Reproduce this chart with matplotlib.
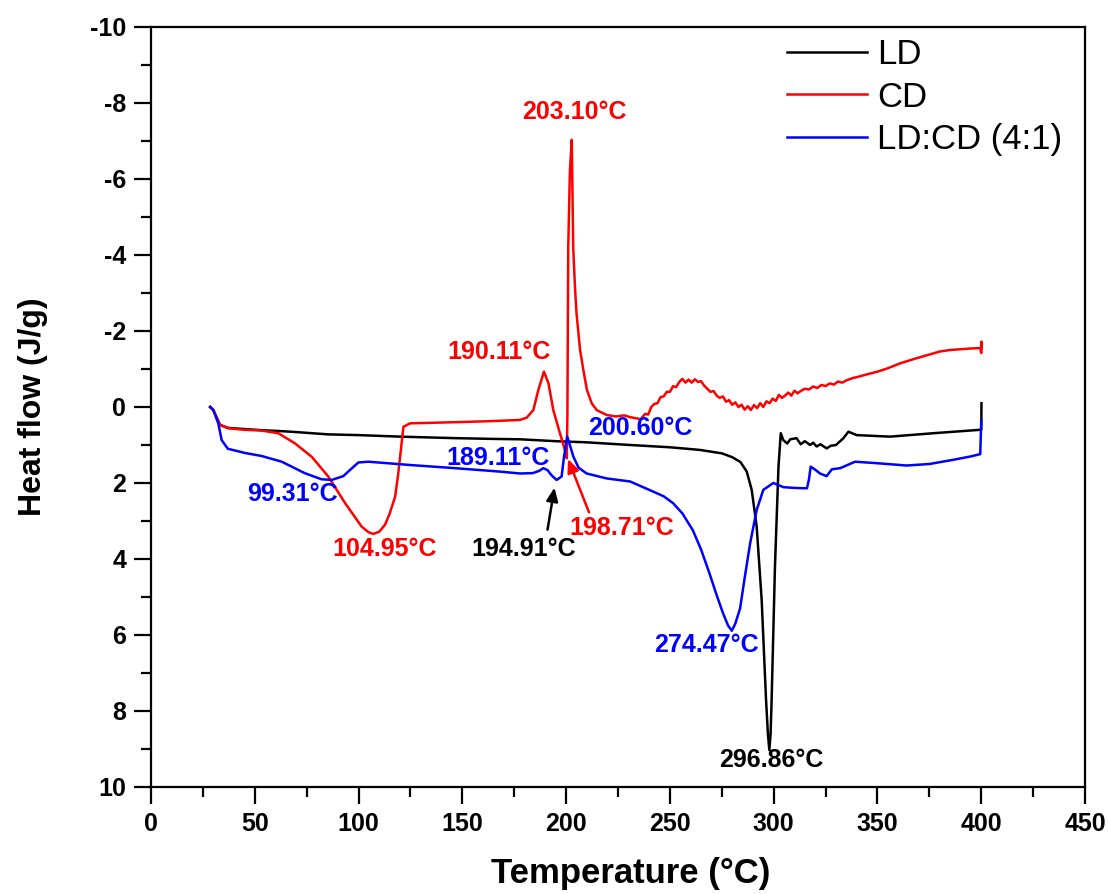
import matplotlib
matplotlib.use("Agg")
import matplotlib.pyplot as plt
from matplotlib.ticker import MultipleLocator

plt.rcParams["font.family"] = ["Liberation Sans", "DejaVu Sans"]
plt.rcParams["axes.unicode_minus"] = False

# --- DSC curves: temperature (°C) and heat flow (J/g) ---
ld_temp = [28.5, 30, 32, 33.2, 37, 45, 53, 61, 70, 85, 100, 120, 146.5, 165, 177.8,
           195, 210, 230.8, 250, 264.5, 275, 280, 284, 287, 289.4, 291.8, 294.2,
           296.3, 297.2, 297.9, 298.5, 299, 300.6, 302.3, 303.4, 304.6, 306.5, 308,
           311, 313, 315, 317.5, 319, 320.7, 322.5, 325.5, 327.5, 330, 333.6, 336,
           340, 356, 377, 399.5, 400, 400.1]
ld_flow = [0.0, 0.08, 0.32, 0.47, 0.55, 0.58, 0.61, 0.63, 0.66, 0.72, 0.74, 0.78, 0.82,
           0.84, 0.85, 0.9, 0.93, 1.0, 1.06, 1.13, 1.22, 1.32, 1.45, 1.7, 2.18, 3.15,
           5.08, 7.7, 8.6, 9.03, 8.6, 7.7, 4.2, 1.57, 0.69, 0.87, 0.96, 0.85, 0.82,
           0.98, 0.9, 1.0, 0.94, 1.04, 0.98, 1.09, 1.02, 1.0, 0.82, 0.65, 0.74, 0.78,
           0.69, 0.6, 0.6, -0.1]

cd_temp = [28.5, 30, 32, 33.2, 37.2, 45, 53.3, 61.3, 69.4, 77.4, 85.4, 93.5, 101.5,
           104.9, 107.1, 110, 112.7, 115, 117.6, 119, 120, 121.6, 124.8, 146.5, 165,
           177.8, 181, 184.2, 186.6, 189.3, 191.5, 193.8, 197, 199.5, 200.3, 200.6,
           201.0, 201.8, 202.7, 203.4, 204.2, 205, 206.7, 208.3, 210, 212.3, 214.7,
           219.5, 224, 228, 231, 234, 236, 238, 239.5, 241, 242.5, 244, 245.5, 247,
           248.5, 250, 251.5, 253, 254.5, 256, 257.5, 259, 260.5, 262, 263.5, 265,
           266.5, 268, 269.5, 271, 272.5, 274, 275.5, 277, 278.5, 280, 281.5, 283,
           284.5, 286, 287.5, 289, 290.5, 292, 293.5, 295, 296.5, 298, 299.5, 301,
           302.5, 304, 305.5, 307, 308.5, 310, 311.5, 313, 315, 317, 319, 321, 323,
           325, 327, 329, 331, 333, 335, 338, 341, 345, 350, 355, 361, 368, 375, 380,
           385, 390, 395, 399.5, 400, 400.1, 400.2]
cd_flow = [0.0, 0.08, 0.32, 0.47, 0.56, 0.6, 0.62, 0.69, 0.96, 1.31, 1.83, 2.53, 3.15,
           3.3, 3.34, 3.28, 3.1, 2.8, 2.36, 1.8, 1.31, 0.52, 0.43, 0.4, 0.37, 0.34,
           0.28, 0.08, -0.45, -0.93, -0.62, 0.08, 0.69, 1.15, 1.35, 0.2, -4.2, -6.2,
           -7.03, -4.2, -3.2, -2.46, -1.5, -0.97, -0.45, -0.1, 0.08, 0.21, 0.25, 0.22,
           0.27, 0.3, 0.32, 0.18, 0.2, 0.0, -0.08, -0.1, -0.26, -0.28, -0.4, -0.4,
           -0.55, -0.52, -0.66, -0.74, -0.64, -0.72, -0.64, -0.73, -0.66, -0.68, -0.56,
           -0.48, -0.4, -0.42, -0.3, -0.24, -0.28, -0.14, -0.18, -0.06, -0.12, 0.0,
           -0.06, 0.07, -0.02, 0.08, -0.05, 0.03, -0.1, 0.0, -0.15, -0.1, -0.22,
           -0.16, -0.32, -0.24, -0.3, -0.38, -0.3, -0.43, -0.36, -0.42, -0.48, -0.46,
           -0.54, -0.5, -0.58, -0.55, -0.62, -0.59, -0.67, -0.64, -0.7, -0.76, -0.8,
           -0.86, -0.93, -1.02, -1.15, -1.27, -1.38, -1.46, -1.5, -1.52, -1.54, -1.55,
           -1.42, -1.72, -1.55]

mix_temp = [28.5, 30, 32.4, 34, 37, 45.3, 53.3, 63, 74, 82, 87, 92.6, 96, 99.9, 104.7,
            125.6, 146.5, 168, 177.8, 184, 187, 189, 191, 193, 195.4, 197.8, 199,
            200.5, 201.5, 203.5, 206, 209.9, 219.5, 230.8, 240, 247, 251.5, 256, 261,
            265, 269, 272.5, 275.6, 278, 279.8, 281.5, 283.8, 286, 288.6, 291.8, 295,
            299.8, 304.7, 310, 316, 317, 317.8, 320, 322.3, 325.5, 328, 332, 339.2,
            350, 364, 375, 386.5, 395, 399.5, 400]
mix_flow = [0.0, 0.08, 0.43, 0.87, 1.1, 1.21, 1.29, 1.44, 1.74, 1.9, 1.92, 1.82, 1.65,
            1.46, 1.44, 1.53, 1.61, 1.7, 1.75, 1.74, 1.68, 1.61, 1.66, 1.8, 1.92, 1.83,
            1.3, 0.78, 0.95, 1.31, 1.6, 1.75, 1.88, 1.96, 2.18, 2.35, 2.53, 2.8, 3.24,
            3.75, 4.37, 4.95, 5.43, 5.75, 5.89, 5.7, 5.3, 4.5, 3.6, 2.71, 2.18, 2.0,
            2.11, 2.13, 2.14, 1.9, 1.57, 1.65, 1.75, 1.82, 1.64, 1.61, 1.44, 1.48, 1.54,
            1.5, 1.39, 1.3, 1.24, 0.35]

series_names = ["LD", "CD", "LD:CD (4:1)"]
series_colors = ["black", "#ff0000", "#0000ff"]

# Peak labels: text, colour, position (°C, J/g)
peak_labels = [
    ("203.10°C", "#ff0000", 203.8, -7.76),
    ("190.11°C", "#ff0000", 167.7, -1.45),
    ("200.60°C", "#0000ff", 235.6, 0.55),
    ("189.11°C", "#0000ff", 167.2, 1.34),
    ("99.31°C", "#0000ff", 67.9, 2.29),
    ("104.95°C", "#ff0000", 112.7, 3.74),
    ("194.91°C", "black", 179.7, 3.74),
    ("198.71°C", "#ff0000", 227.0, 3.18),
    ("274.47°C", "#0000ff", 267.4, 6.26),
    ("296.86°C", "black", 298.7, 9.29),
]

fig = plt.figure(figsize=(11.09, 8.94), dpi=100)
ax = fig.add_axes([0.1362, 0.1197, 0.8422, 0.8501])

for t, f, name, c in zip([ld_temp, cd_temp, mix_temp], [ld_flow, cd_flow, mix_flow],
                         series_names, series_colors):
    ax.plot(t, f, color=c, lw=1.8, label=name)

for text, c, x, y in peak_labels:
    ax.text(x, y, text, color=c, fontsize=18, fontweight="bold",
            ha="center", va="center")

ax.annotate("", xy=(194.6, 2.05), xytext=(190.8, 3.3),
            arrowprops=dict(arrowstyle="-|>,head_length=0.8,head_width=0.35",
                            color="black", lw=1.8))
ax.annotate("", xy=(200.4, 1.3), xytext=(211.5, 2.84),
            arrowprops=dict(arrowstyle="-|>,head_length=0.8,head_width=0.35",
                            color="#ff0000", lw=1.8))

ax.set_xlim(0, 450)
ax.set_ylim(10, -10)
ax.xaxis.set_major_locator(MultipleLocator(50))
ax.xaxis.set_minor_locator(MultipleLocator(25))
ax.yaxis.set_major_locator(MultipleLocator(2))
ax.yaxis.set_minor_locator(MultipleLocator(1))
ax.tick_params(which="major", direction="out", length=12, width=1.6,
               labelsize=18, pad=6)
ax.tick_params(which="minor", direction="out", length=7, width=1.6)
for lab in ax.get_xticklabels() + ax.get_yticklabels():
    lab.set_fontweight("bold")
for sp in ax.spines.values():
    sp.set_linewidth(1.6)

ax.set_xlabel("Temperature (°C)", fontsize=25, fontweight="bold")
ax.xaxis.set_label_coords(0.513, -0.114, transform=ax.transAxes)
ax.xaxis.label.set_va("center")
ax.set_ylabel("Heat flow (J/g)", fontsize=23, fontweight="bold", labelpad=30)

ax.legend(loc="upper left", bbox_to_anchor=(0.666, 1.004), frameon=False,
          fontsize=25, handlelength=2.3, handletextpad=0.3, labelspacing=0.28,
          borderaxespad=0.0)

fig.savefig("out.png", dpi=100)
